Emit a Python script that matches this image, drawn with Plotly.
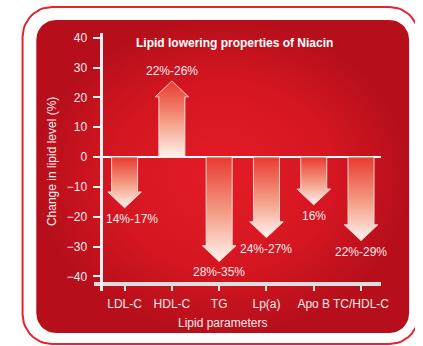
import numpy as np
import plotly.graph_objects as go

# ---------------- data ----------------
categories = ["LDL-C", "HDL-C", "TG", "Lp(a)", "Apo B", "TC/HDL-C"]
change_pct = [-17, 25.5, -35, -27, -16, -28]
range_labels = ["14%-17%", "22%-26%", "28%-35%", "24%-27%", "16%", "22%-29%"]
y_ticks = [-40, -30, -20, -10, 0, 10, 20, 30, 40]

title = "Lipid lowering properties of Niacin"
y_title = "Change in lipid level (%)"
x_title = "Lipid parameters"

W, H = 423, 346
FONT = "Liberation Sans, Arial, Helvetica, sans-serif"


def px_x(p):
    return p / W


def px_y(p):
    return 1 - p / H


def rounded_rect(x0, y0, x1, y1, r, n=12):
    pts = []
    corners = [
        (x1 - r, y0 + r, -np.pi / 2, 0),
        (x1 - r, y1 - r, 0, np.pi / 2),
        (x0 + r, y1 - r, np.pi / 2, np.pi),
        (x0 + r, y0 + r, np.pi, 1.5 * np.pi),
    ]
    for cx, cy, a0, a1 in corners:
        for a in np.linspace(a0, a1, n):
            pts.append((cx + r * np.cos(a), cy + r * np.sin(a)))
    pts.append(pts[0])
    xs, ys = zip(*pts)
    return list(xs), list(ys)


fig = go.Figure()

# background panel (pixel coordinates on hidden axes)
bx, by = rounded_rect(37, 18, 417, 333, 20)
fig.add_trace(go.Scatter(
    x=bx, y=by, mode="lines", fill="toself", line=dict(width=0),
    fillgradient=dict(type="radial",
                      colorscale=[[0, "rgb(228,28,38)"], [0.6, "rgb(212,22,33)"], [1, "rgb(182,15,27)"]]),
    hoverinfo="skip", showlegend=False, xaxis="x", yaxis="y"))

ox, oy = rounded_rect(23, 5, 427, 344, 30)
fig.add_trace(go.Scatter(
    x=ox, y=oy, mode="lines", line=dict(color="#e8212b", width=2),
    hoverinfo="skip", showlegend=False, xaxis="x", yaxis="y"))

# arrows
shaft_half = 0.275
head_half = 0.355
head_len = 5.3
for i, v in enumerate(change_pct):
    s = np.sign(v)
    yb = v - s * head_len
    xs = [i - shaft_half, i - shaft_half, i - head_half, i, i + head_half, i + shaft_half, i + shaft_half, i - shaft_half]
    ys = [0, yb, yb, v, yb, yb, 0, 0]
    fig.add_trace(go.Scatter(
        x=xs, y=ys, mode="lines", fill="toself",
        line=dict(color="rgba(255,225,220,0.9)", width=1),
        fillgradient=dict(type="vertical",
                          colorscale=[[0, "#fff3ee"], [0.45, "#f4a088"], [1, "#e93a30"]]),
        hoverinfo="skip", showlegend=False, xaxis="x2", yaxis="y2"))

annotations = []
for i, (v, t) in enumerate(zip(change_pct, range_labels)):
    annotations.append(dict(
        x=i, y=v, xref="x2", yref="y2", text=t, showarrow=False,
        xanchor="center", yanchor="top" if v < 0 else "bottom", yshift=-2 if v < 0 else 1,
        xshift=7 if i == 0 else 0,
        font=dict(family=FONT, size=12, color="#fbeaea")))

annotations += [
    dict(x=px_x(239.5), y=px_y(41), xref="paper", yref="paper", text="<b>%s</b>" % title,
         xanchor="center", yanchor="middle",
         showarrow=False, font=dict(family=FONT, size=12, color="white")),
    dict(x=px_x(53), y=px_y(160), xref="paper", yref="paper", text=y_title, textangle=-90,
         xanchor="center", yanchor="middle",
         showarrow=False, font=dict(family=FONT, size=12, color="#f7ecec")),
    dict(x=px_x(227), y=px_y(323), xref="paper", yref="paper", text=x_title,
         xanchor="center", yanchor="middle",
         showarrow=False, font=dict(family=FONT, size=12, color="#f7ecec")),
]

fig.update_layout(
    width=W, height=H, autosize=False,
    margin=dict(l=0, r=0, t=0, b=0, pad=0),
    paper_bgcolor="white", plot_bgcolor="rgba(0,0,0,0)",
    showlegend=False,
    xaxis=dict(domain=[0, 1], range=[0, W], visible=False, fixedrange=True),
    yaxis=dict(domain=[0, 1], range=[H, 0], visible=False, fixedrange=True),
    xaxis2=dict(domain=[px_x(96), px_x(388)], range=[-0.643, 5.415], anchor="free",
                position=px_y(284), showline=True, linecolor="#dedede", linewidth=4,
                ticks="outside", ticklen=5, tickwidth=2, tickcolor="#e6e6e6",
                tickvals=list(range(len(categories))), ticktext=categories,
                tickfont=dict(family=FONT, size=12, color="#f7ecec"),
                ticklabelstandoff=2,
                showgrid=False, zeroline=False, fixedrange=True),
    yaxis2=dict(domain=[px_y(291), px_y(31)], range=[-45, 41.667], anchor="free",
                position=px_x(102.5), showline=True, linecolor="#f0f0f0", linewidth=3,
                ticks="outside", ticklen=7, tickwidth=2, tickcolor="#f4f4f4",
                tickvals=y_ticks, tickfont=dict(family=FONT, size=12, color="#f7ecec"),
                ticklabelstandoff=3,
                showgrid=False, zeroline=True, zerolinecolor="white", zerolinewidth=2,
                fixedrange=True),
    annotations=annotations,
)

fig.write_html("out.html")
